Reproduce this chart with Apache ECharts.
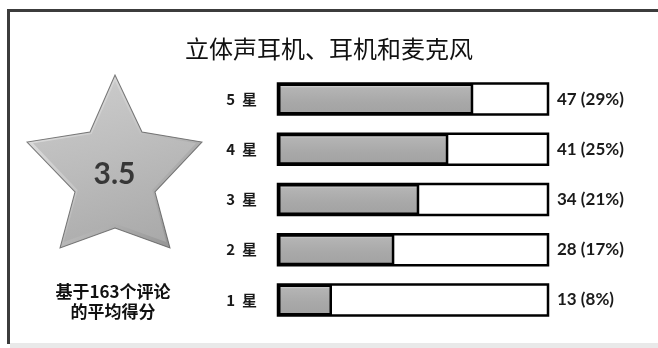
<!DOCTYPE html>
<html>
<head>
<meta charset="utf-8">
<script src="https://cdn.jsdelivr.net/npm/echarts@6/dist/echarts.min.js"></script>
<style>
  html, body { margin: 0; padding: 0; background: #ffffff; }
  #chart { width: 658px; height: 348px; }
</style>
</head>
<body>
<div id="chart"></div>
<script>
// Rating breakdown, top row first
const ratingLabels = ['5 星', '4 星', '3 星', '2 星', '1 星'];
const ratingCounts = [47, 41, 34, 28, 13];
const ratingPercents = [29, 25, 21, 17, 8];
const averageScore = 3.5;
const reviewTotal = 163;
const axisMax = 65;
const chartTitle = '立体声耳机、耳机和麦克风';

const countLabels = ratingCounts.map((c, i) => c + ' (' + ratingPercents[i] + '%)');

const cjk = '"Noto Sans CJK SC", "Noto Sans", sans-serif';
const latin = 'Lato, "Noto Sans CJK SC", sans-serif';

// five-point star outline, scaled to the symbol box
const starPath = 'path://M88,0 L115,57 L175,67 L128,117 L143,173 L88,153 L33,173 L48,117 L0,67 L63,57 Z';

const chart = echarts.init(document.getElementById('chart'), null, { renderer: 'canvas' });

chart.setOption({
  backgroundColor: '#ffffff',
  animation: false,
  title: {
    text: chartTitle,
    left: 'center',
    top: 32,
    textStyle: { fontFamily: cjk, fontSize: 24, fontWeight: 'normal', color: '#111111' }
  },
  graphic: [
    // frame: top and left rules, pale band along the bottom
    { type: 'rect', shape: { x: 7, y: 9, width: 660, height: 3 }, style: { fill: '#3c3c3c' }, silent: true },
    { type: 'rect', shape: { x: 7, y: 9, width: 3, height: 335 }, style: { fill: '#3c3c3c' }, silent: true },
    { type: 'rect', shape: { x: 10, y: 343, width: 660, height: 6 }, style: { fill: '#e9e9e9' }, silent: true },
    {
      type: 'text', x: 113, y: 282, silent: true,
      style: {
        text: '基于' + reviewTotal + '个评论\n的平均得分',
        textAlign: 'center',
        font: 'bold 17px ' + cjk,
        lineHeight: 20,
        fill: '#111111'
      }
    }
  ],
  grid: [
    { left: 278, top: 74, width: 270, height: 251, containLabel: false },
    { left: 27, top: 75, width: 175, height: 173, containLabel: false }
  ],
  xAxis: [
    { gridIndex: 0, type: 'value', min: 0, max: axisMax, show: false },
    { gridIndex: 1, type: 'value', min: -1, max: 1, show: false }
  ],
  yAxis: [
    {
      gridIndex: 0, type: 'category', data: ratingLabels, inverse: true, position: 'left',
      axisLine: { show: false }, axisTick: { show: false }, splitLine: { show: false },
      axisLabel: {
        margin: 21,
        formatter: (v) => v.replace(' ', '  '),
        fontFamily: cjk, fontSize: 15, fontWeight: 'bold', color: '#1a1a1a'
      }
    },
    {
      gridIndex: 0, type: 'category', data: countLabels, inverse: true, position: 'right',
      axisLine: { show: false }, axisTick: { show: false }, splitLine: { show: false },
      axisLabel: { margin: 9, fontFamily: latin, fontSize: 17, fontWeight: 'bold', color: '#1a1a1a' }
    },
    { gridIndex: 1, type: 'value', min: -1, max: 1, show: false }
  ],
  series: [
    {
      type: 'bar',
      xAxisIndex: 0,
      yAxisIndex: 0,
      data: ratingCounts,
      barWidth: 31,
      showBackground: true,
      backgroundStyle: { color: '#ffffff', borderColor: '#000000', borderWidth: 2.5 },
      itemStyle: {
        color: new echarts.graphic.LinearGradient(0, 0, 0, 1, [
          { offset: 0, color: '#f4f4f4' },
          { offset: 0.14, color: '#b4b4b4' },
          { offset: 0.6, color: '#a8a8a8' },
          { offset: 1, color: '#a2a2a2' }
        ]),
        borderColor: '#000000',
        borderWidth: 2.5
      },
      silent: true
    },
    {
      // bevelled star carrying the average score
      type: 'scatter',
      xAxisIndex: 1,
      yAxisIndex: 2,
      data: [[0, 0]],
      symbol: starPath,
      symbolSize: [175, 173],
      itemStyle: {
        color: new echarts.graphic.LinearGradient(0, 0, 1, 1, [
          { offset: 0, color: '#e6e6e6' },
          { offset: 0.45, color: '#b9b9b9' },
          { offset: 1, color: '#6e6e6e' }
        ]),
        borderColor: '#5a5a5a',
        borderWidth: 1
      },
      label: { show: false },
      z: 2,
      silent: true
    },
    {
      type: 'scatter',
      xAxisIndex: 1,
      yAxisIndex: 2,
      data: [[0, 0]],
      symbol: starPath,
      symbolSize: [163, 161],
      itemStyle: {
        color: new echarts.graphic.LinearGradient(0, 0, 0, 1, [
          { offset: 0, color: '#c6c6c6' },
          { offset: 1, color: '#adadad' }
        ])
      },
      label: {
        show: true,
        position: 'inside',
        offset: [0, 13],
        formatter: () => averageScore.toFixed(1),
        fontFamily: latin,
        fontSize: 30,
        fontWeight: 'bold',
        color: '#161616'
      },
      z: 3,
      silent: true
    }
  ]
});
</script>
</body>
</html>
